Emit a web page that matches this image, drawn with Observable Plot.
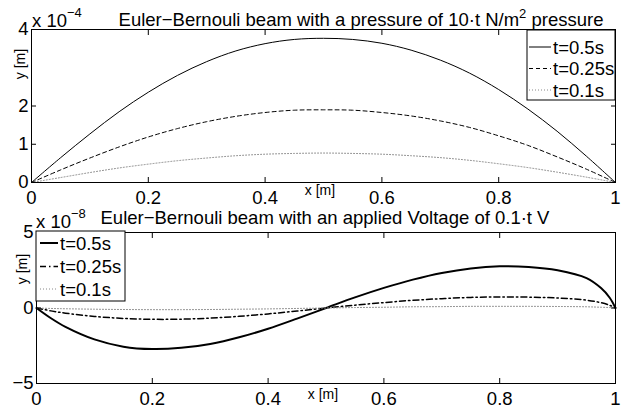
<!DOCTYPE html>
<html><head><meta charset="utf-8">
<script src="https://cdn.jsdelivr.net/npm/d3@7"></script>
<script src="https://cdn.jsdelivr.net/npm/@observablehq/plot@0.6"></script>
<style>
body{margin:0;background:#fff;}
#fig{position:relative;width:628px;height:411px;background:#fff;font-family:"Liberation Sans",Arial,Helvetica,sans-serif;}
#fig svg{position:absolute;left:0;}
</style></head><body><div id="fig"></div>
<script>
// ---------- data ----------
const X_TICKS = [0, 0.2, 0.4, 0.6, 0.8, 1];
const X_TICK_LABELS = ["0", "0.2", "0.4", "0.6", "0.8", "1"];
const SERIES_LABELS = ["t=0.5s", "t=0.25s", "t=0.1s"];

// top: pressure load, y in units of 1e-4 m
const TOP_Y_TICKS = [0, 1, 2, 4];
const TOP_Y_TICK_LABELS = ["0", "1", "2", "4"];
const xTop = [0, 0.05, 0.1, 0.15, 0.2, 0.25, 0.3, 0.35, 0.4, 0.45, 0.5, 0.55, 0.6, 0.65, 0.7, 0.75, 0.8, 0.85, 0.9, 0.95, 1];
const yTop05  = [0, 0.65, 1.27, 1.85, 2.36, 2.80, 3.16, 3.44, 3.63, 3.74, 3.77, 3.74, 3.64, 3.46, 3.20, 2.86, 2.43, 1.92, 1.34, 0.69, 0];
const yTop025 = [0, 0.33, 0.64, 0.93, 1.19, 1.41, 1.59, 1.73, 1.83, 1.89, 1.90, 1.89, 1.83, 1.74, 1.61, 1.44, 1.22, 0.97, 0.67, 0.35, 0];
const yTop01  = [0, 0.13, 0.26, 0.38, 0.48, 0.57, 0.64, 0.70, 0.74, 0.76, 0.77, 0.76, 0.74, 0.70, 0.65, 0.58, 0.49, 0.39, 0.27, 0.14, 0];

// bottom: applied voltage, y in units of 1e-8 m
const BOT_Y_TICKS = [-5, 0, 5];
const BOT_Y_TICK_LABELS = ["\u22125", "0", "5"];
const xBot = [0, 0.025, 0.05, 0.1, 0.15, 0.2, 0.25, 0.3, 0.35, 0.4, 0.45, 0.5, 0.55, 0.6, 0.65, 0.7, 0.75, 0.8, 0.85, 0.9, 0.95, 0.975, 0.99, 1];
const yBot05  = [0, -0.68, -1.25, -2.08, -2.56, -2.72, -2.64, -2.38, -1.94, -1.37, -0.70, 0, 0.70, 1.33, 1.88, 2.32, 2.62, 2.76, 2.72, 2.50, 1.98, 1.32, 0.68, 0];
const yBot025 = [0, -0.19, -0.34, -0.56, -0.69, -0.75, -0.74, -0.67, -0.55, -0.39, -0.20, 0, 0.19, 0.36, 0.51, 0.62, 0.70, 0.73, 0.72, 0.66, 0.52, 0.35, 0.18, 0];
const yBot01  = [0, -0.03, -0.05, -0.08, -0.10, -0.11, -0.11, -0.10, -0.08, -0.06, -0.03, 0, 0.03, 0.05, 0.08, 0.09, 0.11, 0.11, 0.11, 0.10, 0.08, 0.05, 0.03, 0];

// ---------- helpers ----------
const FONT = "Liberation Sans, Arial, Helvetica, sans-serif";
const FS = 18.5;
const zip = (xs, ys) => xs.map((x, i) => ({x, y: ys[i]}));

const topStyles = [
  {stroke: "#000", strokeWidth: 1, strokeDasharray: null},
  {stroke: "#000", strokeWidth: 1, strokeDasharray: "4,3"},
  {stroke: "#888", strokeWidth: 1, strokeDasharray: "1,2"}
];
const botStyles = [
  {stroke: "#000", strokeWidth: 2, strokeDasharray: null},
  {stroke: "#000", strokeWidth: 1.5, strokeDasharray: "6,3,1.5,3"},
  {stroke: "#888", strokeWidth: 1, strokeDasharray: "1,2"}
];

function makePlot({height, margins, yDomain, yTicks, yTickLabels, series, styles}) {
  const marks = series.map((s, i) => Plot.line(s, {x: "x", y: "y", curve: "catmull-rom", ...styles[i]}));
  return Plot.plot({
    width: 628, height,
    marginTop: margins[0], marginRight: margins[1], marginBottom: margins[2], marginLeft: margins[3],
    x: {domain: [0, 1]},
    y: {domain: yDomain},
    style: {fontFamily: FONT, fontSize: FS + "px", color: "#000", background: "transparent", overflow: "visible"},
    marks: [
      ...marks,
      Plot.frame({stroke: "#000", strokeWidth: 1}),
      Plot.axisX({ticks: X_TICKS, tickSize: -5, tickPadding: 13, tickFormat: d => X_TICK_LABELS[X_TICKS.indexOf(d)], label: null, fontSize: FS}),
      Plot.axisX({anchor: "top", ticks: X_TICKS, tickSize: -5, tickFormat: () => "", label: null}),
      Plot.axisY({ticks: yTicks, tickSize: -5, tickPadding: 8, tickFormat: d => yTickLabels[yTicks.indexOf(d)], label: null, fontSize: FS}),
      Plot.axisY({anchor: "right", ticks: yTicks, tickSize: -5, tickFormat: () => "", label: null})
    ]
  });
}

function addText(svg, x, y, parts, opts = {}) {
  const t = d3.select(svg).append("text")
    .attr("x", x).attr("y", y)
    .attr("font-family", FONT)
    .attr("font-size", opts.size || FS)
    .attr("text-anchor", opts.anchor || "start")
    .attr("fill", "#000");
  if (opts.rotate) t.attr("transform", `rotate(${opts.rotate},${x},${y})`);
  parts.forEach(p => {
    const ts = t.append("tspan").text(p.t);
    if (p.size) ts.attr("font-size", p.size);
    if (p.dy) ts.attr("dy", p.dy);
  });
  return t;
}

function addLegend(svg, box, rows, lineX, textX, styles) {
  const g = d3.select(svg).append("g");
  g.append("rect").attr("x", box[0]).attr("y", box[1]).attr("width", box[2]).attr("height", box[3])
    .attr("fill", "#fff").attr("stroke", "#000").attr("stroke-width", 1);
  SERIES_LABELS.forEach((lab, i) => {
    const s = styles[i];
    g.append("line").attr("x1", lineX[0]).attr("x2", lineX[1]).attr("y1", rows[i]).attr("y2", rows[i])
      .attr("stroke", s.stroke).attr("stroke-width", s.strokeWidth)
      .attr("stroke-dasharray", s.strokeDasharray);
    g.append("text").attr("x", textX).attr("y", rows[i] + 6.5)
      .attr("text-anchor", "start")
      .attr("font-family", FONT).attr("font-size", FS).attr("fill", "#000").text(lab);
  });
}

// ---------- top plot ----------
const fig = document.getElementById("fig");
const topPlot = makePlot({
  height: 205, margins: [29, 13, 23, 31], yDomain: [0, 4],
  yTicks: TOP_Y_TICKS, yTickLabels: TOP_Y_TICK_LABELS,
  series: [zip(xTop, yTop05), zip(xTop, yTop025), zip(xTop, yTop01)],
  styles: topStyles
});
topPlot.style.top = "0px";
fig.appendChild(topPlot);
addText(topPlot, 361, 26, [{t: "Euler\u2212Bernouli beam with a pressure of 10\u00b7t N/m"}, {t: "2", size: 13, dy: -8}, {t: " pressure", dy: 8}], {anchor: "middle"});
addText(topPlot, 32, 27, [{t: "x 10"}, {t: "\u22124", size: 13, dy: -10.5}]);
addText(topPlot, 320, 195, [{t: "x [m]"}], {size: 14, anchor: "middle"});
addText(topPlot, 25, 64, [{t: "y [m]"}], {size: 14, anchor: "middle", rotate: -90});
addLegend(topPlot, [527, 30, 88, 70], [47, 68.5, 90], [529, 551], 553, topStyles);

// ---------- bottom plot ----------
const botPlot = makePlot({
  height: 206, margins: [27, 13, 28, 36], yDomain: [-5, 5],
  yTicks: BOT_Y_TICKS, yTickLabels: BOT_Y_TICK_LABELS,
  series: [zip(xBot, yBot05), zip(xBot, yBot025), zip(xBot, yBot01)],
  styles: botStyles
});
botPlot.style.top = "205px";
fig.appendChild(botPlot);
addText(botPlot, 325, 19, [{t: "Euler\u2212Bernouli beam with an applied Voltage of 0.1\u00b7t V"}], {anchor: "middle"});
addText(botPlot, 36, 23, [{t: "x 10"}, {t: "\u22128", size: 13, dy: -10.5}]);
addText(botPlot, 323, 194, [{t: "x [m]"}], {size: 14, anchor: "middle"});
addText(botPlot, 27, 64, [{t: "y [m]"}], {size: 14, anchor: "middle", rotate: -90});
addLegend(botPlot, [36, 26, 89, 70], [38, 61.5, 84], [40, 58], 60, botStyles);
</script>
</body></html>
